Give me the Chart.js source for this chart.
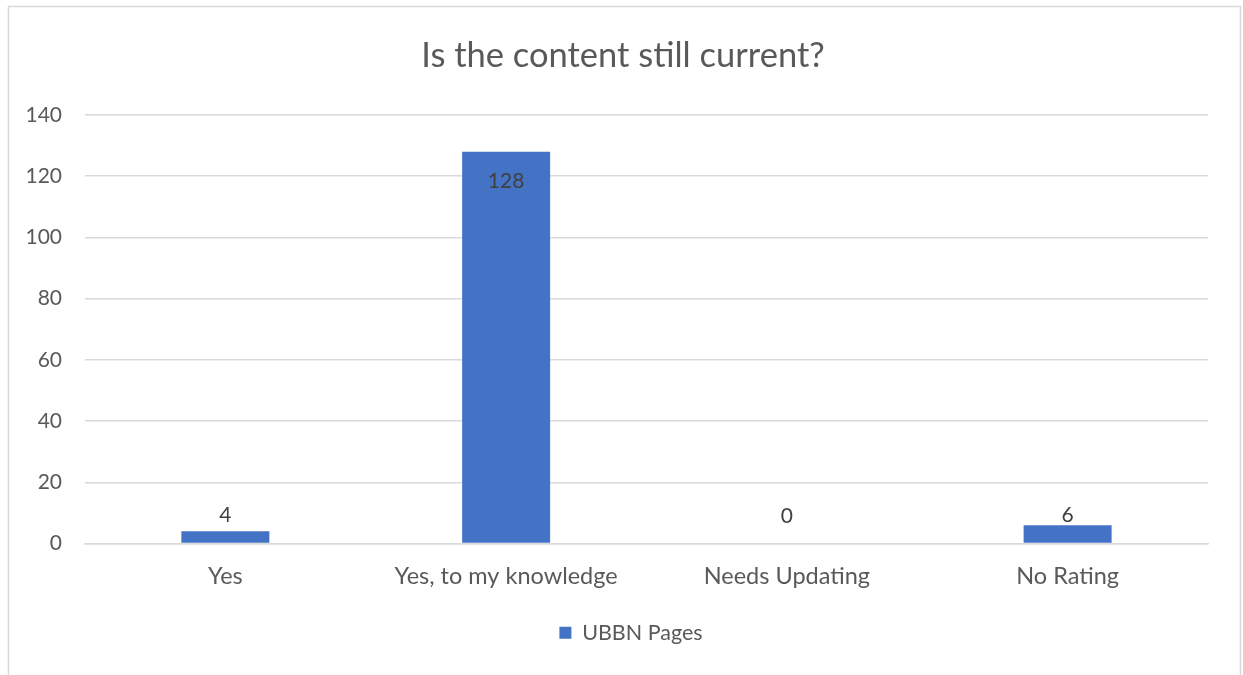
<!DOCTYPE html>
<html>
<head>
<meta charset="utf-8">
<script src="https://cdn.jsdelivr.net/npm/chart.js@4/dist/chart.umd.min.js"></script>
<style>
html,body{margin:0;padding:0;background:#fff;}
#wrap{width:1243px;height:675px;position:relative;}
</style>
</head>
<body>
<div id="wrap"><canvas id="c" width="1243" height="675"></canvas></div>
<script>
const categories = ["Yes", "Yes, to my knowledge", "Needs Updating", "No Rating"];
const ubbnPages = [4, 128, 0, 6];
const seriesName = "UBBN Pages";
const chartTitle = "Is the content still current?";
const yTicks = [0, 20, 40, 60, 80, 100, 120, 140];

const FONT = "Lato, 'Noto Sans', sans-serif";
const TXT = "#595959";

const frame = {
  id: 'frame',
  beforeDraw(chart) {
    const ctx = chart.ctx;
    ctx.save();
    ctx.fillStyle = '#fff';
    ctx.fillRect(0, 0, chart.width, chart.height);
    ctx.strokeStyle = '#d9d9d9';
    ctx.lineWidth = 1.5;
    ctx.strokeRect(8.5, 6.5, 1232, 720);
    ctx.restore();
  }
};

const boxShift = {
  id: 'boxShift',
  afterLayout(chart) {
    if (chart.legend) { chart.legend.left += 27; chart.legend.right += 27; }
    if (chart.titleBlock) { chart.titleBlock.left += 19; chart.titleBlock.right += 19; }
  }
};

const valueLabels = {
  id: 'valueLabels',
  afterDatasetsDraw(chart) {
    const ctx = chart.ctx;
    const meta = chart.getDatasetMeta(0);
    ctx.save();
    ctx.font = "21px " + FONT;
    ctx.fillStyle = "#404040";
    ctx.textAlign = "center";
    meta.data.forEach((bar, i) => {
      const v = chart.data.datasets[0].data[i];
      const h = bar.base - bar.y;
      if (h > 60) {
        ctx.textBaseline = "middle";
        ctx.fillText(String(v), bar.x, bar.y + 30);
      } else {
        ctx.textBaseline = "alphabetic";
        ctx.fillText(String(v), bar.x, Math.min(bar.y - 2, bar.base - 21));
      }
    });
    ctx.restore();
  }
};

new Chart(document.getElementById('c'), {
  type: 'bar',
  data: {
    labels: categories,
    datasets: [{
      label: seriesName,
      data: ubbnPages,
      backgroundColor: '#4472C4',
      borderWidth: 0,
      categoryPercentage: 0.3134,
      barPercentage: 1
    }]
  },
  options: {
    responsive: false,
    animation: false,
    devicePixelRatio: 1,
    layout: { padding: { left: 0, right: 35, top: 0, bottom: 21.5 } },
    plugins: {
      tooltip: { enabled: false },
      title: {
        display: true,
        text: chartTitle,
        color: TXT,
        font: { family: FONT, size: 34.5, weight: 'normal', lineHeight: 1.2 },
        padding: { top: 34.8, bottom: 38.8 }
      },
      legend: {
        position: 'bottom',
        labels: {
          color: TXT,
          font: { family: FONT, size: 21.5 },
          boxWidth: 12,
          boxHeight: 12,
          padding: 10
        }
      }
    },
    scales: {
      x: {
        grid: { display: false, drawTicks: false },
        border: { display: true, color: '#d9d9d9', width: 1.5 },
        ticks: { color: TXT, font: { family: FONT, size: 23.5 }, padding: 19, maxRotation: 0 },
        afterFit(s) { s.height = 68.5; }
      },
      y: {
        min: 0,
        max: 140,
        afterBuildTicks(s) { s.ticks = yTicks.map(v => ({ value: v })); },
        grid: { color: '#d9d9d9', lineWidth: 1.5, drawTicks: false },
        border: { display: false },
        ticks: { color: TXT, font: { family: FONT, size: 21 }, padding: 23 },
        afterFit(s) { s.width = 85; }
      }
    }
  },
  plugins: [frame, boxShift, valueLabels]
});
</script>
</body>
</html>
